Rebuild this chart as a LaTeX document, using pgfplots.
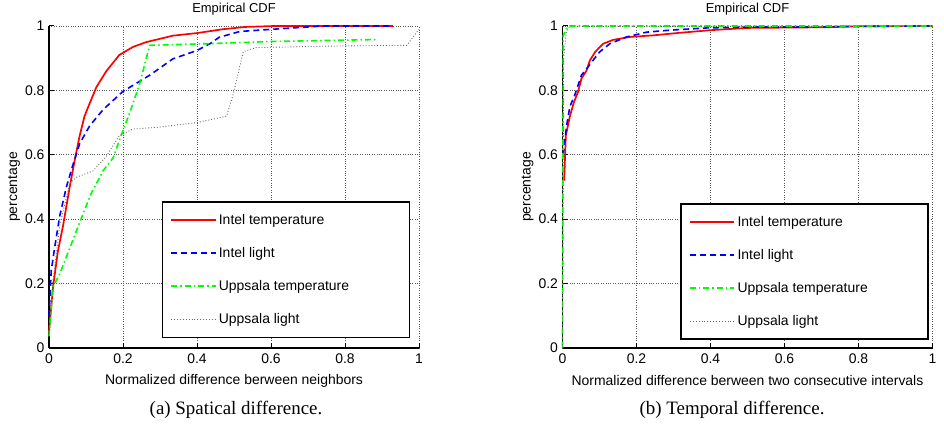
\documentclass[border=0pt]{standalone}
\usepackage{pgfplots}
\pgfplotsset{compat=1.18}
\usepackage{fontspec}
\setmainfont{Liberation Sans}
\newfontfamily\capfont{Liberation Serif}
\pgfplotsset{
  cdfaxis/.style={
    scale only axis, width=370bp, height=322bp,
    xmin=0, xmax=1, ymin=0, ymax=1,
    axis x line=bottom, axis y line=left,
    axis line style={-, line width=1.5bp, black},
    xtick={0,0.2,0.4,0.6,0.8,1}, ytick={0,0.2,0.4,0.6,0.8,1},
    xticklabels={0,0.2,0.4,0.6,0.8,1}, yticklabels={0,0.2,0.4,0.6,0.8,1},
    tick align=inside, major tick length=5bp,
    tick style={black, line width=1bp},
    ticklabel style={font=\fontsize{14}{16}\selectfont},
    xticklabel style={yshift=-2bp},
    yticklabel style={xshift=-1bp},
    grid=major, grid style={dotted, black!65, line width=0.7bp},
    clip=false,
    title={Empirical CDF},
    title style={at={(axis description cs:0.5,1)}, anchor=center, yshift=11bp, font=\fontsize{13}{15}\selectfont},
    xlabel style={at={(axis description cs:0.5,0)}, anchor=center, yshift=-33bp, font=\fontsize{14}{16}\selectfont},
    ylabel={percentage},
    ylabel style={at={(axis description cs:0,0.5)}, anchor=center, rotate=0, yshift=35bp, font=\fontsize{14}{16}\selectfont},
    legend cell align=left,
    every legend image post/.append style={xscale=2.6},
    legend style={draw=black, line width=1.5bp, fill=white, row sep=16.6bp,
      inner xsep=8bp, inner ysep=9.5bp, font=\fontsize{14}{16}\selectfont,
      nodes={inner sep=2.5bp}},
  },
  ptemp/.style={color=red, line width=1.7bp, solid},
  plight/.style={color=blue, line width=1.6bp, dash pattern=on 6bp off 4bp},
  putemp/.style={color=green, line width=1.6bp, dash pattern=on 6bp off 3bp on 1.5bp off 3bp},
  pulight/.style={color=black!60, line width=0.9bp, dotted},
}
\begin{document}
\begin{tikzpicture}
\useasboundingbox (0,0) rectangle (944bp,437bp);
\begin{axis}[cdfaxis, at={(49bp,89bp)}, anchor=south west,
  xlabel={Normalized difference berween neighbors},
  legend style={at={(0.976,0.031)}, anchor=south east}]
\addplot[ptemp] coordinates {(0,0.05)(0.011,0.19)(0.024,0.30)(0.038,0.38)(0.056,0.50)(0.069,0.58)(0.083,0.66)(0.096,0.72)(0.11,0.76)(0.128,0.81)(0.155,0.86)(0.19,0.91)(0.227,0.935)(0.263,0.95)(0.335,0.97)(0.40,0.978)(0.47,0.99)(0.53,0.997)(0.61,1.0)(0.93,1.0)};
\addplot[plight] coordinates {(0,0.1)(0.006,0.24)(0.015,0.31)(0.029,0.41)(0.047,0.50)(0.065,0.57)(0.083,0.635)(0.11,0.69)(0.146,0.74)(0.2,0.797)(0.272,0.847)(0.335,0.898)(0.40,0.924)(0.435,0.945)(0.46,0.965)(0.516,0.983)(0.606,0.99)(0.70,0.997)(0.74,1.0)(0.93,1.0)};
\addplot[putemp] coordinates {(0,0.036)(0.011,0.19)(0.029,0.23)(0.056,0.31)(0.083,0.39)(0.114,0.48)(0.146,0.55)(0.173,0.59)(0.195,0.66)(0.218,0.73)(0.245,0.82)(0.263,0.90)(0.272,0.94)(0.426,0.945)(0.606,0.952)(0.89,0.958)};
\addplot[pulight] coordinates {(0,0.05)(0.01,0.2)(0.029,0.38)(0.056,0.51)(0.074,0.53)(0.119,0.55)(0.155,0.595)(0.19,0.66)(0.227,0.68)(0.29,0.685)(0.40,0.70)(0.48,0.72)(0.497,0.785)(0.51,0.847)(0.525,0.92)(0.56,0.933)(0.786,0.938)(0.967,0.94)(1.0,0.99)};
\legend{\makebox[180bp][l]{Intel temperature},Intel light,Uppsala temperature,Uppsala light}
\end{axis}
\begin{axis}[cdfaxis, at={(562.5bp,89bp)}, anchor=south west,
  xlabel={Normalized difference berween two consecutive intervals},
  legend style={at={(0.99,0.025)}, anchor=south east}]
\addplot[ptemp] coordinates {(0.0045,0.52)(0.009,0.66)(0.02,0.72)(0.031,0.764)(0.042,0.795)(0.051,0.836)(0.065,0.862)(0.074,0.893)(0.088,0.919)(0.097,0.93)(0.11,0.945)(0.137,0.957)(0.182,0.966)(0.246,0.971)(0.318,0.979)(0.40,0.987)(0.5,0.994)(0.70,0.996)(0.79,0.999)(1.0,1.0)};
\addplot[plight] coordinates {(0.002,0.6)(0.011,0.69)(0.02,0.75)(0.033,0.785)(0.051,0.847)(0.065,0.867)(0.079,0.888)(0.10,0.919)(0.128,0.945)(0.173,0.966)(0.228,0.981)(0.29,0.987)(0.39,0.994)(0.52,0.997)(0.70,0.997)(0.83,0.999)(1.0,1.0)};
\addplot[putemp] coordinates {(0,0)(0.001,0.5)(0.002,0.97)(0.011,0.992)(0.02,1)(1,1)};
\addplot[pulight] coordinates {(0,0)(0.003,0.9)(0.01,0.98)(0.02,1)(1,1)};
\legend{\makebox[180bp][l]{Intel temperature},Intel light,Uppsala temperature,Uppsala light}
\end{axis}
\node[font=\capfont\fontsize{19}{22}\selectfont] at (236bp,27bp) {(a) Spatical difference.};
\node[font=\capfont\fontsize{19}{22}\selectfont] at (732bp,27bp) {(b) Temporal difference.};
\end{tikzpicture}
\end{document}
